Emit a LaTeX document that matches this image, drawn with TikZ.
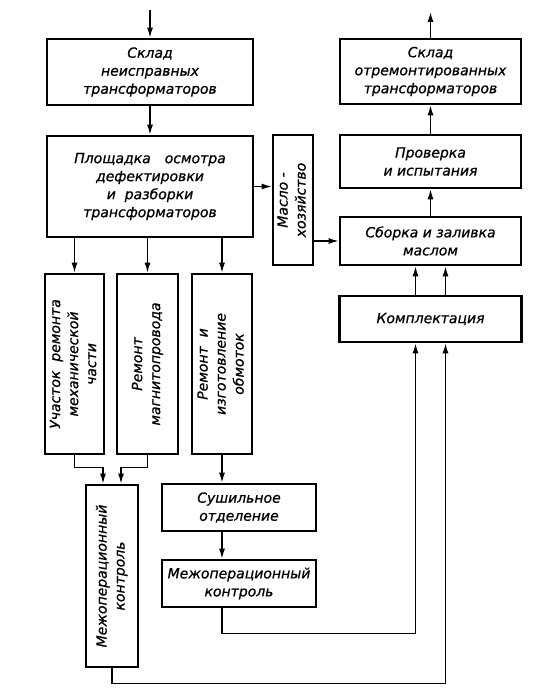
\documentclass[tikz,border=0pt]{standalone}
\usepackage{fontspec}
\setmainfont{DejaVu Sans}
\newfontfamily\chert{DejaVu Sans}[FakeBold=0.8]
\usetikzlibrary{arrows.meta}
\newcommand{\rottext}[1]{\rotatebox{90}{\begin{tabular}{@{}c@{}}#1\end{tabular}}}

\begin{document}
\begin{tikzpicture}[x=1pt,y=-1pt,
        blok/.style={draw,line width=2.6pt,inner sep=0pt,align=center,font=\fontsize{14}{18}\selectfont\chert\itshape},
        svyaz/.style={line width=1.4pt},
        strel/.style={svyaz,-{Latex[length=10pt,width=6pt]}}]
        \useasboundingbox (0,0) rectangle (558,693);
        % left column
        \node[blok,minimum width=206,minimum height=66] (skladN) at (150,72) {Склад\\неисправных\\трансформаторов};
        \node[blok,minimum width=206,minimum height=101] (ploshch) at (150,186.5) {Площадка\quad осмотра\\дефектировки\\и\ \ разборки\\трансформаторов};
        \node[blok,minimum width=59,minimum height=180] (uch) at (74.5,364) {\rottext{Участок\ \ ремонта\\механической\\части}};
        \node[blok,minimum width=61,minimum height=180] (magn) at (147.5,364) {\rottext{Ремонт\\магнитопровода}};
        \node[blok,minimum width=60,minimum height=180] (obm) at (222,364) {\rottext{Ремонт\ \ и\\изготовление\\обмоток}};
        \node[blok,minimum width=52,minimum height=182] (mezhV) at (112,576) {\rottext{Межоперационный\\контроль}};
        \node[blok,minimum width=154,minimum height=47] (sush) at (239,507.5) {Сушильное\\отделение};
        \node[blok,minimum width=154,minimum height=47] (mezhG) at (239,583.5) {Межоперационный\\контроль};
        % right column
        \node[blok,minimum width=40,minimum height=130] (maslo) at (293,200) {\rottext{Масло -\\хозяйство}};
        \node[blok,minimum width=181,minimum height=65] (skladO) at (430.5,71.5) {Склад\\отремонтированных\\трансформаторов};
        \node[blok,minimum width=181,minimum height=53] (prov) at (430.5,161.5) {Проверка\\и испытания};
        \node[blok,minimum width=181,minimum height=48] (sborka) at (430.5,241) {Сборка и заливка\\маслом};
        \node[blok,minimum width=182,minimum height=46] (komplekt) at (430.5,319) {Комплектация};
        \coordinate (vhod) at (150,10);
        \coordinate (vyhod) at (430.5,12);

        \draw[strel] (vhod) -- (skladN);
        \draw[strel] (skladN) -- (ploshch);
        \foreach \n in {uch,magn,obm} {
            \draw[strel] (ploshch.south -| \n) -- (\n.north);
        }
        \draw[strel] (uch.south) -- ++(0,12) -| ([xshift=-9pt]mezhV.north);
        \draw[strel] (magn.south) -- ++(0,12) -| ([xshift=9pt]mezhV.north);
        \draw[strel] (obm.south) -- (obm.south |- sush.north);
        \draw[strel] (sush.south -| obm) -- (mezhG.north -| obm);
        \draw[strel] (mezhG.south -| obm) -- ++(0,25) -| ([xshift=-15pt]komplekt.south);
        \draw[strel] (mezhV.south) -- ++(0,15) -| ([xshift=15pt]komplekt.south);
        \draw[strel] (ploshch.east) -- (ploshch.east -| maslo.west);
        \draw[strel] (maslo.east |- sborka.west) -- (sborka.west);
        \foreach \dx in {-15,15} {
            \draw[strel] ([xshift=\dx pt]komplekt.north) -- ([xshift=\dx pt]sborka.south);
        }
        \draw[strel] (sborka) -- (prov);
        \draw[strel] (prov) -- (skladO);
        \draw[strel] (skladO) -- (vyhod);
    \end{tikzpicture}
\end{document}
